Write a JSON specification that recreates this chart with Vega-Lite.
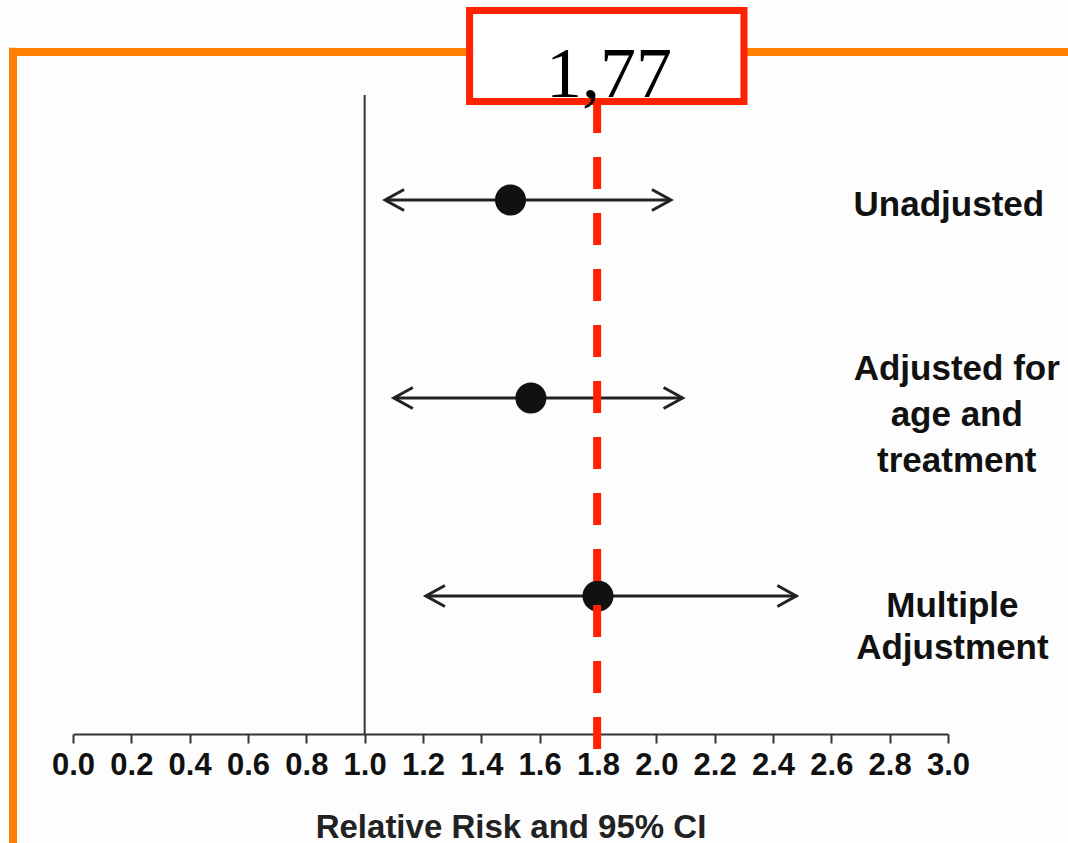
{
  "$schema": "https://vega.github.io/schema/vega-lite/v6.json",
  "width": 875,
  "height": 639,
  "autosize": {"type": "none"},
  "padding": {"left": 73, "top": 95, "right": 120, "bottom": 109},
  "background": "#fdfdfd",
  "config": {
    "view": {"stroke": null},
    "axis": {
      "domainColor": "#333333",
      "domainWidth": 2,
      "tickColor": "#333333",
      "tickWidth": 2,
      "tickSize": 9,
      "grid": false,
      "labelFont": "Liberation Sans",
      "labelFontSize": 31,
      "labelFontWeight": "bold",
      "labelColor": "#111111",
      "labelPadding": 7,
      "labelOverlap": false,
      "labelFlush": false,
      "titleFont": "Liberation Sans",
      "titleFontSize": 33,
      "titleFontWeight": "bold",
      "titleColor": "#222222",
      "titlePadding": 31
    }
  },
  "datasets": {
    "rows": [
      {"label": "Unadjusted", "row": 1, "rr": 1.5, "lo": 1.07, "hi": 2.05},
      {"label": "Adjusted for\nage and\ntreatment", "row": 2, "rr": 1.57, "lo": 1.1, "hi": 2.09},
      {"label": "Multiple\nAdjustment", "row": 3, "rr": 1.8, "lo": 1.21, "hi": 2.48}
    ],
    "one": [{"txt": "1,77"}]
  },
  "layer": [
    {
      "data": {"name": "rows"},
      "mark": {"type": "rule", "color": "#222222", "strokeWidth": 3},
      "encoding": {
        "x": {"field": "lo", "type": "quantitative", "scale": {"domain": [0, 3], "nice": false, "zero": false},
          "axis": {"values": [0, 0.2, 0.4, 0.6, 0.8, 1.0, 1.2, 1.4, 1.6, 1.8, 2.0, 2.2, 2.4, 2.6, 2.8, 3.0], "format": ".1f", "title": "Relative Risk and 95% CI"}},
        "x2": {"field": "hi"},
        "y": {"field": "row", "type": "quantitative", "scale": {"domain": [0.47, 3.697], "reverse": true, "nice": false, "zero": false}, "axis": null}
      }
    },
    {
      "data": {"name": "one"},
      "mark": {"type": "rule", "color": "#ff8000", "strokeWidth": 8},
      "encoding": {
        "x": {"datum": -0.2057, "type": "quantitative"},
        "x2": {"datum": 3.6},
        "y": {"datum": 0.2525, "type": "quantitative"}
      }
    },
    {
      "data": {"name": "one"},
      "mark": {"type": "rule", "color": "#ff8000", "strokeWidth": 8},
      "encoding": {
        "x": {"datum": -0.2057, "type": "quantitative"},
        "y": {"datum": 0.232, "type": "quantitative"},
        "y2": {"datum": 4.4}
      }
    },
    {
      "data": {"name": "one"},
      "mark": {"type": "rule", "color": "#333333", "strokeWidth": 2},
      "encoding": {
        "x": {"datum": 1, "type": "quantitative"},
        "y": {"datum": 0.47, "type": "quantitative"},
        "y2": {"datum": 3.697}
      }
    },
    {
      "data": {"name": "rows"},
      "mark": {"type": "point", "shape": "M 1.9 -1.05 L 0 0 L 1.9 1.05", "filled": false, "stroke": "#222222", "strokeWidth": 3, "size": 400, "opacity": 1},
      "encoding": {
        "x": {"field": "lo", "type": "quantitative"},
        "y": {"field": "row", "type": "quantitative"}
      }
    },
    {
      "data": {"name": "rows"},
      "mark": {"type": "point", "shape": "M -1.9 -1.05 L 0 0 L -1.9 1.05", "filled": false, "stroke": "#222222", "strokeWidth": 3, "size": 400, "opacity": 1},
      "encoding": {
        "x": {"field": "hi", "type": "quantitative"},
        "y": {"field": "row", "type": "quantitative"}
      }
    },
    {
      "data": {"name": "rows"},
      "mark": {"type": "circle", "color": "#111111", "size": 962, "opacity": 1},
      "encoding": {
        "x": {"field": "rr", "type": "quantitative"},
        "y": {"field": "row", "type": "quantitative"}
      }
    },
    {
      "data": {"name": "rows"},
      "transform": [{"filter": "datum.row === 1"}],
      "mark": {"type": "text", "font": "Liberation Sans", "fontSize": 35, "fontWeight": "bold", "color": "#111111", "align": "center", "baseline": "middle", "lineBreak": "\n", "dy": 5},
      "encoding": {
        "x": {"datum": 3.003, "type": "quantitative"},
        "y": {"field": "row", "type": "quantitative"},
        "text": {"field": "label", "type": "nominal"}
      }
    },
    {
      "data": {"name": "rows"},
      "transform": [{"filter": "datum.row === 2"}],
      "mark": {"type": "text", "font": "Liberation Sans", "fontSize": 35, "fontWeight": "bold", "color": "#111111", "align": "center", "baseline": "middle", "lineBreak": "\n", "lineHeight": 46, "dy": -29},
      "encoding": {
        "x": {"datum": 3.03, "type": "quantitative"},
        "y": {"field": "row", "type": "quantitative"},
        "text": {"field": "label", "type": "nominal"}
      }
    },
    {
      "data": {"name": "rows"},
      "transform": [{"filter": "datum.row === 3"}],
      "mark": {"type": "text", "font": "Liberation Sans", "fontSize": 35, "fontWeight": "bold", "color": "#111111", "align": "center", "baseline": "middle", "lineBreak": "\n", "lineHeight": 42, "dy": 10},
      "encoding": {
        "x": {"datum": 3.015, "type": "quantitative"},
        "y": {"field": "row", "type": "quantitative"},
        "text": {"field": "label", "type": "nominal"}
      }
    },
    {
      "data": {"name": "one"},
      "mark": {"type": "rule", "color": "#ff2200", "strokeWidth": 8, "strokeDash": [32, 24]},
      "encoding": {
        "x": {"datum": 1.797, "type": "quantitative"},
        "y": {"datum": 0.5, "type": "quantitative"},
        "y2": {"datum": 3.773}
      }
    },
    {
      "data": {"name": "one"},
      "mark": {"type": "rect", "fill": "#ffffff", "stroke": "#ff2200", "strokeWidth": 7},
      "encoding": {
        "x": {"datum": 1.3597, "type": "quantitative"},
        "x2": {"datum": 2.3005},
        "y": {"datum": 0.0429, "type": "quantitative"},
        "y2": {"datum": 0.5025}
      }
    },
    {
      "data": {"name": "one"},
      "mark": {"type": "text", "font": "Liberation Serif", "fontSize": 72, "color": "#000000", "align": "center", "baseline": "alphabetic"},
      "encoding": {
        "x": {"datum": 1.838, "type": "quantitative"},
        "y": {"datum": 0.4798, "type": "quantitative"},
        "text": {"field": "txt", "type": "nominal"}
      }
    }
  ]
}
